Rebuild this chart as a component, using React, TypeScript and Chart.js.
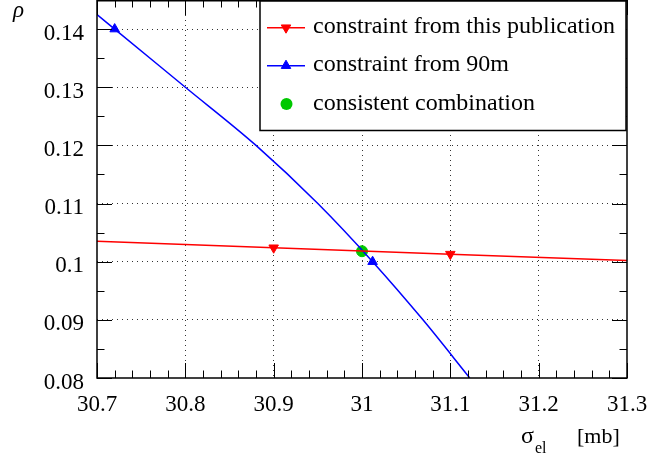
import React, { useEffect, useRef } from 'react';
import { Chart, registerables } from 'chart.js';

Chart.register(...registerables);

// ---- data ----
const xTicks = [30.7, 30.8, 30.9, 31.0, 31.1, 31.2, 31.3];
const yTicks = [0.08, 0.09, 0.1, 0.11, 0.12, 0.13, 0.14];

const redX = [30.7, 30.9, 31.1, 31.3];
const redY = [0.1035, 0.1024, 0.1013, 0.1002];
const redMarker = [false, true, true, false];

const blueX = [30.7, 30.72, 30.8, 30.88, 30.95, 31.012, 31.069, 31.122];
const blueY = [0.1425, 0.14, 0.13, 0.12, 0.11, 0.1, 0.09, 0.08];
const blueMarker = [false, true, false, false, false, true, false, false];

const comboX = [31.0];
const comboY = [0.1018];

const legendLabels = ['constraint from this publication', 'constraint from 90m', 'consistent combination'];

const RED = '#ff0000';
const BLUE = '#0000ff';
const GREEN = '#00c800';
const FONT = '"Liberation Serif", "DejaVu Serif", serif';

function tri(ctx: CanvasRenderingContext2D, x: number, y: number, r: number, rotDeg: number) {
  let rad = (rotDeg * Math.PI) / 180;
  ctx.beginPath();
  ctx.moveTo(x + Math.sin(rad) * r, y - Math.cos(rad) * r);
  rad += (2 * Math.PI) / 3;
  ctx.lineTo(x + Math.sin(rad) * r, y - Math.cos(rad) * r);
  rad += (2 * Math.PI) / 3;
  ctx.lineTo(x + Math.sin(rad) * r, y - Math.cos(rad) * r);
  ctx.closePath();
  ctx.fill();
  ctx.stroke();
}

const framePlugin = {
  id: 'rootFrame',
  afterDatasetsDraw(chart: any) {
    const { ctx, chartArea: a, scales } = chart;
    const xs = scales.x;
    const ys = scales.y;
    ctx.save();
    ctx.strokeStyle = '#000';
    ctx.lineWidth = 1;
    const seg = (x1: number, y1: number, x2: number, y2: number) => {
      ctx.beginPath();
      ctx.moveTo(x1, y1);
      ctx.lineTo(x2, y2);
      ctx.stroke();
    };
    const MAJ = 15;
    const MIN = 7.5;
    for (let i = 0; i < xTicks.length; i++) {
      const px = Math.round(xs.getPixelForValue(xTicks[i])) + 0.5;
      seg(px, a.bottom, px, a.bottom - MAJ);
      seg(px, a.top, px, a.top + MAJ);
      if (i < xTicks.length - 1) {
        for (let k = 1; k < 5; k++) {
          const v = xTicks[i] + ((xTicks[i + 1] - xTicks[i]) * k) / 5;
          const p = Math.round(xs.getPixelForValue(v)) + 0.5;
          seg(p, a.bottom, p, a.bottom - MIN);
          seg(p, a.top, p, a.top + MIN);
        }
      }
    }
    const step = yTicks[1] - yTicks[0];
    for (let i = 0; i < yTicks.length; i++) {
      const py = Math.round(ys.getPixelForValue(yTicks[i])) + 0.5;
      seg(a.left, py, a.left + MAJ, py);
      seg(a.right, py, a.right - MAJ, py);
      const v = yTicks[i] + step / 2;
      if (v < ys.max - 1e-6) {
        const p = Math.round(ys.getPixelForValue(v)) + 0.5;
        seg(a.left, p, a.left + MIN, p);
        seg(a.right, p, a.right - MIN, p);
      }
    }
    ctx.lineWidth = 1.5;
    ctx.strokeRect(a.left, a.top + 0.75, a.right - a.left, a.bottom - a.top - 0.75);

    // legend
    const lx = 260, ly = 1, lw = 366, lh = 129.5;
    ctx.fillStyle = '#fff';
    ctx.fillRect(lx, ly, lw, lh);
    ctx.lineWidth = 1.5;
    ctx.strokeStyle = '#000';
    ctx.strokeRect(lx, ly, lw, lh);
    const rows = [27.7, 65.7, 104];
    ctx.strokeStyle = RED;
    ctx.fillStyle = RED;
    ctx.lineWidth = 1.5;
    seg(267, rows[0], 305, rows[0]);
    ctx.lineWidth = 1;
    tri(ctx, 286, rows[0], 5.5, 180);
    ctx.strokeStyle = BLUE;
    ctx.fillStyle = BLUE;
    ctx.lineWidth = 1.5;
    seg(267, rows[1], 305, rows[1]);
    ctx.lineWidth = 1;
    tri(ctx, 286, rows[1], 5.5, 0);
    ctx.fillStyle = GREEN;
    ctx.beginPath();
    ctx.arc(286.5, rows[2], 6, 0, Math.PI * 2);
    ctx.fill();
    ctx.fillStyle = '#000';
    ctx.font = `24px ${FONT}`;
    ctx.textAlign = 'left';
    ctx.textBaseline = 'alphabetic';
    legendLabels.forEach((t, i) => ctx.fillText(t, 313, rows[i] + 5.5));
    ctx.restore();
  },
  afterDraw(chart: any) {
    const { ctx } = chart;
    ctx.save();
    ctx.fillStyle = '#000';
    ctx.textAlign = 'left';
    ctx.textBaseline = 'alphabetic';
    ctx.font = `italic 23px ${FONT}`;
    ctx.fillText('ρ', 13, 17);
    ctx.font = `24px ${FONT}`;
    ctx.fillText('σ', 521, 443);
    ctx.font = `16px ${FONT}`;
    ctx.fillText('el', 535, 453);
    ctx.font = `22px ${FONT}`;
    ctx.fillText('[mb]', 577, 443);
    ctx.restore();
  },
};

export default function App() {
  const ref = useRef<HTMLCanvasElement | null>(null);
  useEffect(() => {
    if (!ref.current) return;
    const chart = new Chart(ref.current, {
      type: 'scatter',
      data: {
        datasets: [
          {
            label: legendLabels[0],
            data: redX.map((x, i) => ({ x, y: redY[i] })),
            showLine: true,
            borderColor: RED,
            backgroundColor: RED,
            borderWidth: 1.5,
            pointStyle: 'triangle',
            rotation: 180,
            pointRadius: (c: any) => (redMarker[c.dataIndex] ? 5.5 : 0),
            pointBorderWidth: 1,
            pointBorderColor: RED,
            pointBackgroundColor: RED,
            pointHoverRadius: 0,
          },
          {
            label: legendLabels[1],
            data: blueX.map((x, i) => ({ x, y: blueY[i] })),
            showLine: true,
            cubicInterpolationMode: 'monotone',
            borderColor: BLUE,
            backgroundColor: BLUE,
            borderWidth: 1.5,
            pointStyle: 'triangle',
            pointRadius: (c: any) => (blueMarker[c.dataIndex] ? 5.5 : 0),
            pointBorderWidth: 1,
            pointBorderColor: BLUE,
            pointBackgroundColor: BLUE,
            pointHoverRadius: 0,
          },
          {
            label: legendLabels[2],
            data: comboX.map((x, i) => ({ x, y: comboY[i] })),
            showLine: false,
            pointStyle: 'circle',
            pointRadius: 5.5,
            pointBorderWidth: 1,
            pointBorderColor: GREEN,
            pointBackgroundColor: GREEN,
          },
        ] as any,
      },
      options: {
        responsive: false,
        animation: false,
        events: [],
        layout: { autoPadding: false, padding: { top: 0, right: 21, bottom: 0, left: 0 } },
        plugins: { legend: { display: false }, tooltip: { enabled: false } },
        scales: {
          x: {
            type: 'linear',
            min: xTicks[0],
            max: xTicks[xTicks.length - 1],
            afterBuildTicks: (s: any) => {
              s.ticks = xTicks.map((v) => ({ value: v }));
            },
            afterFit: (s: any) => {
              s.height = 76;
              s.paddingLeft = 0;
              s.paddingRight = 0;
            },
            grid: {
              drawTicks: false,
              lineWidth: 1,
              color: (c: any) =>
                c.index === 0 || c.index === xTicks.length - 1 ? 'rgba(0,0,0,0)' : '#333',
            },
            border: { display: false, dash: [1, 4] },
            ticks: {
              padding: 13,
              color: '#000',
              font: { family: FONT, size: 23 },
              maxRotation: 0,
              autoSkip: false,
              callback: (v: any) => String(+Number(v).toFixed(2)),
            },
          },
          y: {
            type: 'linear',
            min: 0.08,
            max: 0.145,
            afterBuildTicks: (s: any) => {
              s.ticks = yTicks.map((v) => ({ value: v }));
            },
            afterFit: (s: any) => {
              s.width = 97;
              s.paddingTop = 0;
              s.paddingBottom = 0;
            },
            grid: {
              drawTicks: false,
              lineWidth: 1,
              color: (c: any) => (c.index === 0 ? 'rgba(0,0,0,0)' : '#333'),
            },
            border: { display: false, dash: [1, 4] },
            ticks: {
              padding: 13,
              labelOffset: 4.5,
              color: '#000',
              font: { family: FONT, size: 23 },
              autoSkip: false,
              callback: (v: any) => String(+Number(v).toFixed(3)),
            },
          },
        },
      } as any,
      plugins: [framePlugin],
    });
    return () => chart.destroy();
  }, []);
  return (
    <div style={{ position: 'absolute', left: 0, top: 0, width: 648, height: 454, background: '#fff' }}>
      <canvas ref={ref} width={648} height={454} style={{ display: 'block' }} />
    </div>
  );
}
